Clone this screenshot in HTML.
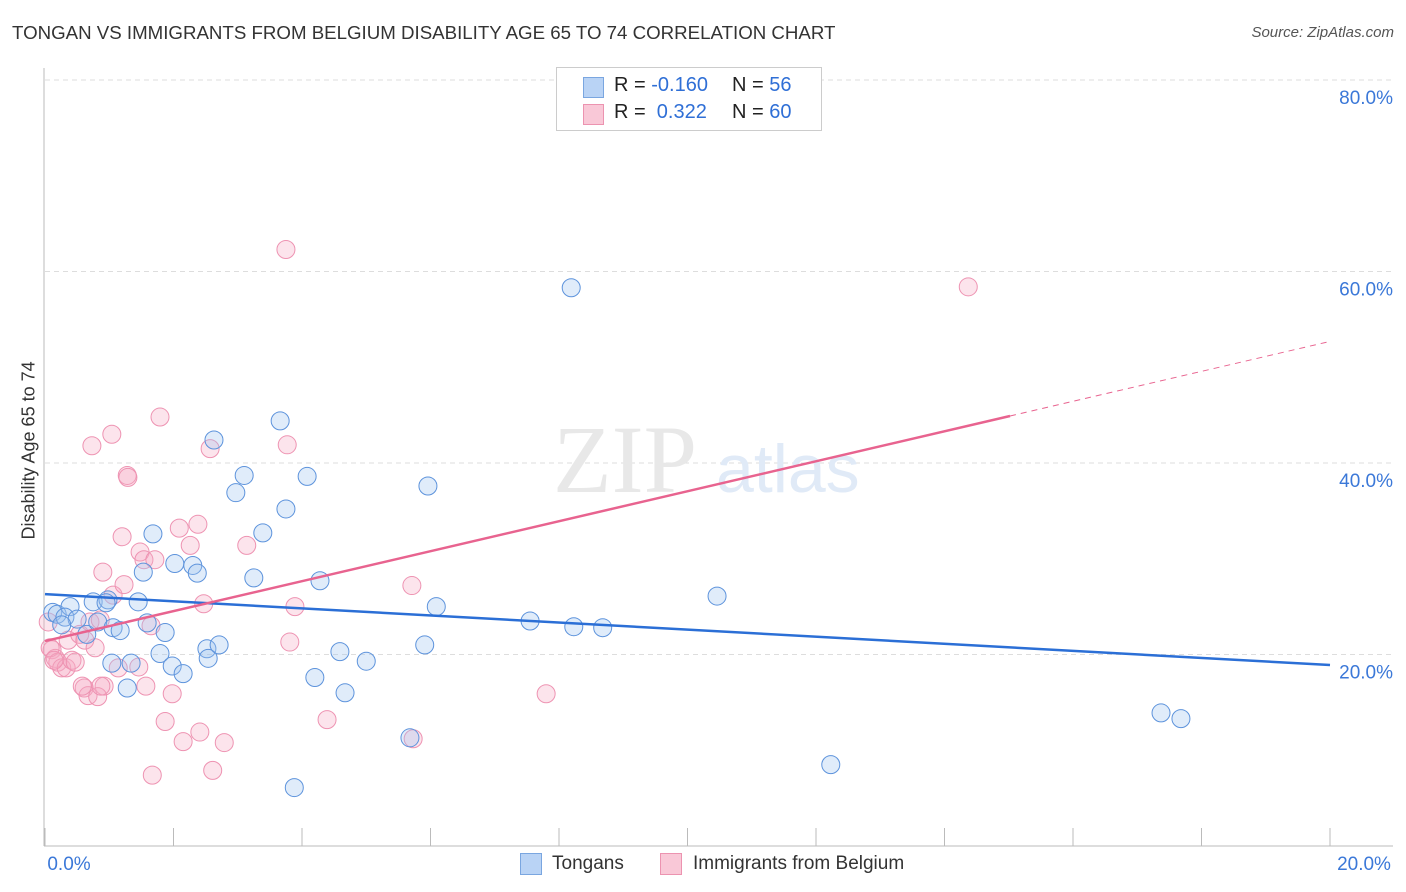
<!DOCTYPE html>
<html><head><meta charset="utf-8"><style>
body{margin:0;background:#fff;font-family:"Liberation Sans",sans-serif;}
#wrap{position:relative;width:1406px;height:892px;overflow:hidden;}
.t{position:absolute;white-space:nowrap;}
</style></head><body>
<div id="wrap">
<div class="t" style="left:12px;top:22px;font-size:18.7px;color:#333;">TONGAN VS IMMIGRANTS FROM BELGIUM DISABILITY AGE 65 TO 74 CORRELATION CHART</div>
<div class="t" style="right:12px;top:24px;font-size:15px;color:#555;font-style:italic;">Source: ZipAtlas.com</div>
<div class="t" style="left:-56px;top:444px;font-size:18px;color:#333;transform:rotate(-90deg);width:170px;text-align:center;">Disability Age 65 to 74</div>
<svg id="svg" width="1406" height="892" style="position:absolute;left:0;top:0"></svg>
<div style="position:absolute;left:556px;top:67px;width:264px;height:62px;border:1px solid #ccc;background:#fff;">
<div style="position:absolute;left:26px;top:9px;width:19px;height:19px;background:#b9d3f5;border:1px solid #7aa6e0;"></div>
<div style="position:absolute;left:26px;top:36px;width:19px;height:19px;background:#f9c8d7;border:1px solid #ec93b0;"></div>
<div class="t" style="left:57px;top:6px;font-size:20px;color:#222;">R = <span style="color:#2f6fd6">-0.160</span></div>
<div class="t" style="left:175px;top:6px;font-size:20px;color:#222;">N = <span style="color:#2f6fd6">56</span></div>
<div class="t" style="left:57px;top:33px;font-size:20px;color:#222;">R = &nbsp;<span style="color:#2f6fd6">0.322</span></div>
<div class="t" style="left:175px;top:33px;font-size:20px;color:#222;">N = <span style="color:#2f6fd6">60</span></div>
</div>
<div style="position:absolute;left:520px;top:853px;">
<div style="position:absolute;left:0;top:0;width:20px;height:20px;background:#b9d3f5;border:1px solid #7aa6e0;"></div>
<div class="t" style="left:32px;top:0;font-size:19px;color:#333;">Tongans</div></div>
<div style="position:absolute;left:660px;top:853px;">
<div style="position:absolute;left:0;top:0;width:20px;height:20px;background:#f9c8d7;border:1px solid #ec93b0;"></div>
<div class="t" style="left:33px;top:0;font-size:19px;color:#333;">Immigrants from Belgium</div></div>
</div>
<script>
const yTicks=[20,40,60,80];
const yTickLabels=["20.0%","40.0%","60.0%","80.0%"];
const xTickVals=[0,2,4,6,8,10,12,14,16,18,20];
const blueX=[0.12,0.19,0.39,0.31,0.50,0.26,0.65,0.75,0.98,0.95,0.82,1.06,1.17,1.45,1.59,1.87,1.34,1.28,1.79,1.98,2.15,2.52,2.54,2.71,1.68,1.53,2.02,2.30,2.37,2.63,2.97,3.10,3.25,3.39,3.66,3.75,4.08,4.28,4.20,4.59,4.67,5.00,5.68,5.91,5.96,6.09,3.88,7.55,8.19,8.23,8.68,10.46,12.23,17.37,17.68,1.04];
const blueY=[24.4,24.2,25.0,23.9,23.7,23.1,22.1,25.5,25.7,25.4,23.4,22.8,22.5,25.5,23.3,22.3,19.1,16.5,20.1,18.8,18.0,20.6,19.6,21.0,32.6,28.6,29.5,29.3,28.5,42.4,36.9,38.7,28.0,32.7,44.4,35.2,38.6,27.7,17.6,20.3,16.0,19.3,11.3,21.0,37.6,25.0,6.1,23.5,58.3,22.9,22.8,26.1,8.5,13.9,13.3,19.1];
const pinkX=[0.11,0.16,0.08,0.20,0.26,0.33,0.42,0.36,0.47,0.54,0.62,0.70,0.78,0.86,0.90,1.06,1.20,1.23,1.14,0.92,0.61,0.67,0.82,0.73,1.04,1.28,1.29,1.48,1.54,1.57,1.65,1.71,1.79,1.87,1.98,2.09,2.15,2.26,2.38,2.41,2.47,2.57,2.61,2.79,3.14,3.75,3.77,3.81,3.89,4.39,5.71,5.73,7.80,14.37,1.67,1.46,0.58,0.87,0.14,0.05];
const pinkY=[20.5,19.6,20.7,19.2,18.6,18.6,19.4,21.5,19.2,22.1,21.5,23.4,20.7,23.6,28.6,26.2,32.3,27.3,18.6,16.7,16.5,15.7,15.6,41.8,43.0,38.7,38.5,30.7,29.9,16.7,23.0,29.9,44.8,13.0,15.9,33.2,10.9,31.4,33.6,11.9,25.3,41.5,7.9,10.8,31.4,62.3,41.9,21.3,25.0,13.2,27.2,11.2,15.9,58.4,7.4,18.7,16.7,16.7,19.4,23.4];
const blueTrend=[26.3,18.9]; // y at x=0, x=20
const pinkTrend=[21.4,52.7];
const pinkSolidEnd=15.02;

const X=v=>45+v*64.25, Y=v=>846-v*9.575;
const svg=document.getElementById('svg');const NS='http://www.w3.org/2000/svg';
function mk(t,a){const e=document.createElementNS(NS,t);for(const k in a)e.setAttribute(k,a[k]);svg.appendChild(e);return e;}
yTicks.forEach((v,i)=>{
 const g=mk('line',{x1:45,x2:1393,y1:Y(v),y2:Y(v),stroke:'#ddd','stroke-dasharray':'5,4'});
 
 
 const t=mk('text',{x:1393,y:Y(v)+24,'text-anchor':'end','font-size':19,fill:'#3b78d8','font-family':'Liberation Sans'});
 t.textContent=yTickLabels[i];
 
 
});
const wm=mk('text',{x:553,y:492,'font-size':96,fill:'#e8e8e8','font-family':'Liberation Serif'});wm.textContent='ZIP';


const wm2=mk('text',{x:716,y:492,'font-size':68,fill:'#e0eaf7','font-family':'Liberation Sans'});wm2.textContent='atlas';


const ax=mk('line',{x1:44,x2:44,y1:68,y2:846,stroke:'#bbb'});


const bx=mk('line',{x1:44,x2:1393,y1:846,y2:846,stroke:'#bbb'});


xTickVals.forEach(v=>{const l=mk('line',{x1:X(v),x2:X(v),y1:828,y2:846,stroke:'#bbb'});
 
 });
[[0,'0.0%',69],[20,'20.0%',1364]].forEach(([v,s,px])=>{const t=mk('text',{x:px,y:870,'text-anchor':'middle','font-size':19,fill:'#3b78d8','font-family':'Liberation Sans'});t.textContent=s;
 
 });
pinkX.forEach((x,i)=>{const c=mk('circle',{cx:X(x),cy:Y(pinkY[i]),r:9,fill:'rgba(246,170,195,0.32)',stroke:'#ee93b2','stroke-width':1});
 
 });
blueX.forEach((x,i)=>{const c=mk('circle',{cx:X(x),cy:Y(blueY[i]),r:9,fill:'rgba(160,196,240,0.32)',stroke:'#5d93dc','stroke-width':1});
 
 });
const bt=mk('line',{x1:X(0),y1:Y(blueTrend[0]),x2:X(20),y2:Y(blueTrend[1]),stroke:'#2b6fd6','stroke-width':2.5});


const pe=pinkTrend[0]+(pinkTrend[1]-pinkTrend[0])*pinkSolidEnd/20;
const pt=mk('line',{x1:X(0),y1:Y(pinkTrend[0]),x2:X(pinkSolidEnd),y2:Y(pe),stroke:'#e8638f','stroke-width':2.5});


const pd=mk('line',{x1:X(pinkSolidEnd),y1:Y(pe),x2:X(20),y2:Y(pinkTrend[1]),stroke:'#e8638f','stroke-width':1,'stroke-dasharray':'6,5'});


</script>
</body></html>
